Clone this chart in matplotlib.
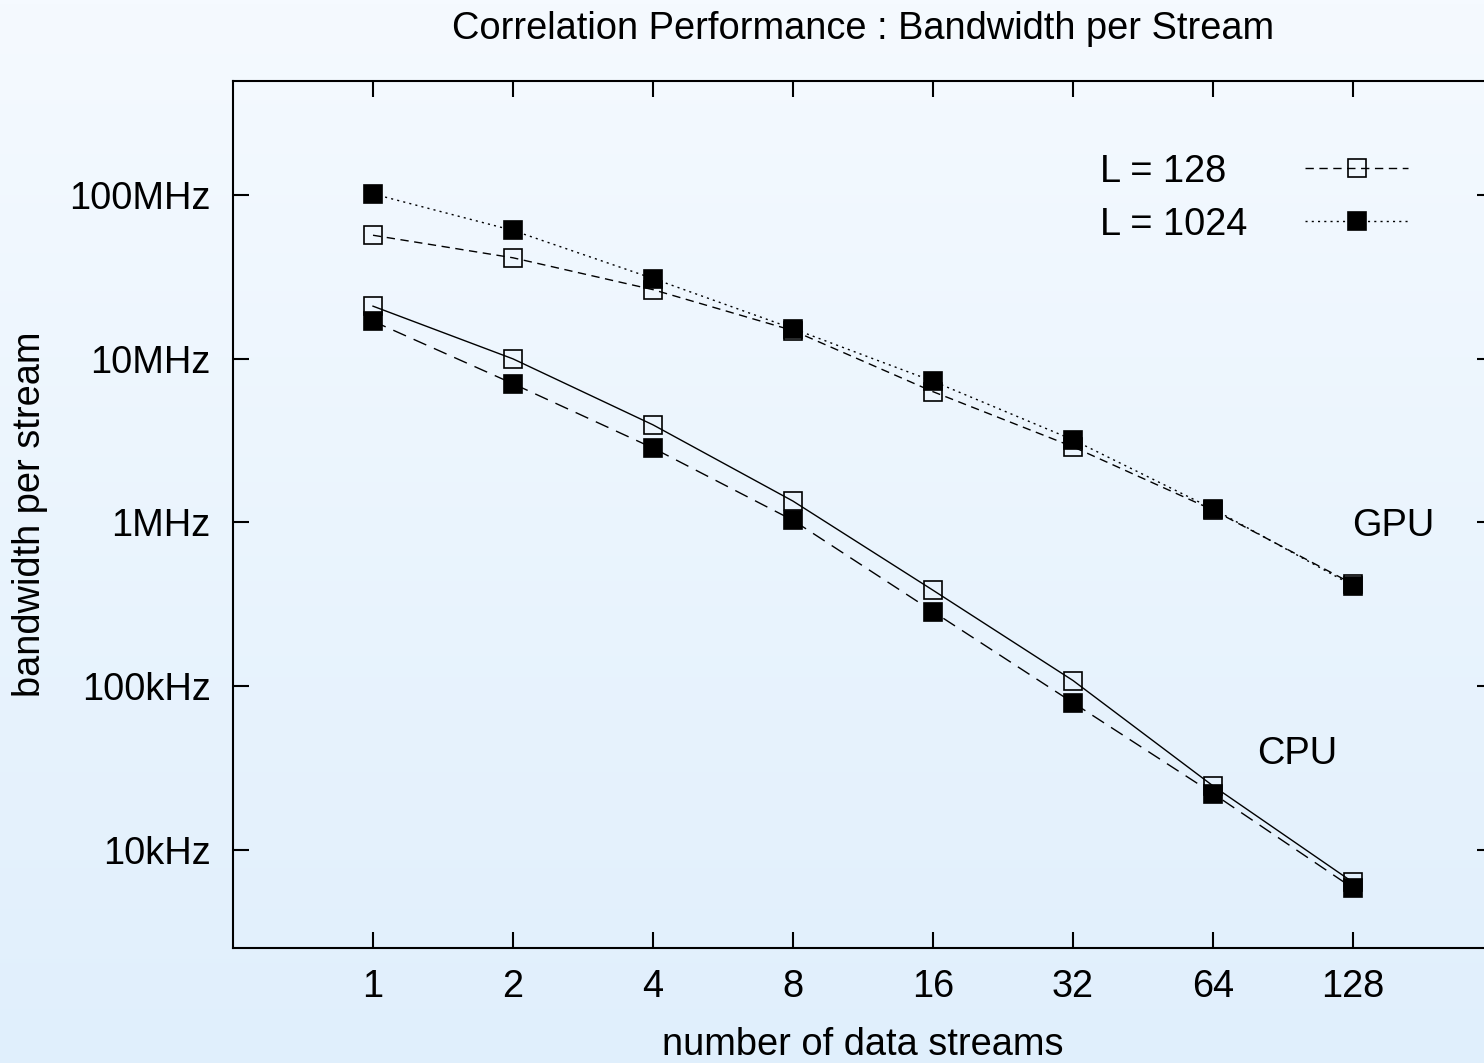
import numpy as np
import matplotlib.pyplot as plt
from matplotlib.colors import LinearSegmentedColormap

plt.rcParams['font.family'] = ['Liberation Sans', 'DejaVu Sans']

# aantal datastromen en bandbreedte per stroom (Hz)
streams = [1, 2, 4, 8, 16, 32, 64, 128]
gpu_128 = [57e6, 41.5e6, 26.5e6, 14.9e6, 6.3e6, 2.9e6, 1.19e6, 4.2e5]
gpu_1024 = [1.02e8, 61e6, 31e6, 15.3e6, 7.3e6, 3.2e6, 1.21e6, 4.1e5]
cpu_128 = [21e6, 10e6, 3.95e6, 1.35e6, 3.85e5, 1.08e5, 2.45e4, 6.3e3]
cpu_1024 = [17e6, 7.05e6, 2.85e6, 1.03e6, 2.85e5, 7.9e4, 2.2e4, 5.8e3]

y_ticks = [1e4, 1e5, 1e6, 1e7, 1e8]
y_labels = ['10kHz', '100kHz', '1MHz', '10MHz', '100MHz']
legend_labels = ['L = 128', 'L = 1024']

W, H = 1484, 1063
fig = plt.figure(figsize=(W / 100, H / 100), dpi=100)

# achtergrond: licht blauwe gradient
bg = fig.add_axes([0, 0, 1, 1], zorder=-10)
bg.axis('off')
cmap = LinearSegmentedColormap.from_list('bg', ['#f5faff', '#e0effc'])
bg.imshow(np.linspace(0, 1, 256).reshape(-1, 1), aspect='auto', cmap=cmap,
          extent=[0, 1, 0, 1])

left, right, top, bottom = 233, 1493, 81, 948
ax = fig.add_axes([left / W, (H - bottom) / H, (right - left) / W, (bottom - top) / H])
ax.set_facecolor('none')
ax.set_xscale('log', base=2)
ax.set_yscale('log')
ax.set_xlim(0.5, 256)
ax.set_ylim(2500, 5e8)

ms = 13
mew = 1.2
lw = 1.0
ls_gpu128 = (0, (6, 4))
ls_gpu1024 = (0, (1.5, 3))
ax.plot(streams, gpu_128, color='black', lw=lw, ls=ls_gpu128, marker='s',
        ms=ms, mfc='none', mec='black', mew=mew)
ax.plot(streams, cpu_128, color='black', lw=lw, ls='-', marker='s',
        ms=ms, mfc='none', mec='black', mew=mew)
ax.plot(streams, gpu_1024, color='black', lw=lw, ls=ls_gpu1024, marker='s',
        ms=ms, mfc='black', mec='black', mew=mew)
ax.plot(streams, cpu_1024, color='black', lw=lw, ls=(0, (10, 6)), marker='s',
        ms=ms, mfc='black', mec='black', mew=mew)

fs = 27.4
ax.text(2 ** 7.29, 1e6, 'GPU', fontsize=fs, ha='center', va='center_baseline')
ax.text(2 ** 6.6, 4.04e4, 'CPU', fontsize=fs, ha='center', va='center_baseline')

# legenda in gnuplot-stijl: tekst links uitgelijnd, voorbeeldlijn rechts
def ax_x(px):
    return (px - left) / (right - left)

def ax_y(py):
    return (bottom - py) / (bottom - top)

legend_styles = [(ls_gpu128, 'none'), (ls_gpu1024, 'black')]
for i, (lab, (ls, fc)) in enumerate(zip(legend_labels, legend_styles)):
    yy = ax_y(168 + 53 * i)
    ax.text(ax_x(1100), yy, lab, fontsize=fs, ha='left', va='center_baseline',
            transform=ax.transAxes)
    ax.plot([ax_x(1305), ax_x(1408)], [yy, yy], color='black', lw=lw, ls=ls,
            transform=ax.transAxes)
    ax.plot([ax_x(1357)], [yy], marker='s', ms=ms, mfc=fc, mec='black',
            mew=mew, ls='none', transform=ax.transAxes)

ax.set_xticks(streams)
ax.set_xticklabels([str(s) for s in streams])
ax.set_yticks(y_ticks)
ax.set_yticklabels(y_labels)
ax.minorticks_off()
ax.tick_params(which='both', direction='in', length=11.5, width=1.5,
               top=True, right=True, labelsize=fs)
ax.tick_params(axis='x', pad=15)
ax.tick_params(axis='y', pad=16)
for sp in ax.spines.values():
    sp.set_linewidth(1.5)

ax.set_title('Correlation Performance : Bandwidth per Stream', fontsize=fs, pad=30)
ax.set_xlabel('number of data streams', fontsize=fs, labelpad=16)
ax.set_ylabel('bandwidth per stream', fontsize=fs, labelpad=15)

fig.savefig('out.png', dpi=100)
